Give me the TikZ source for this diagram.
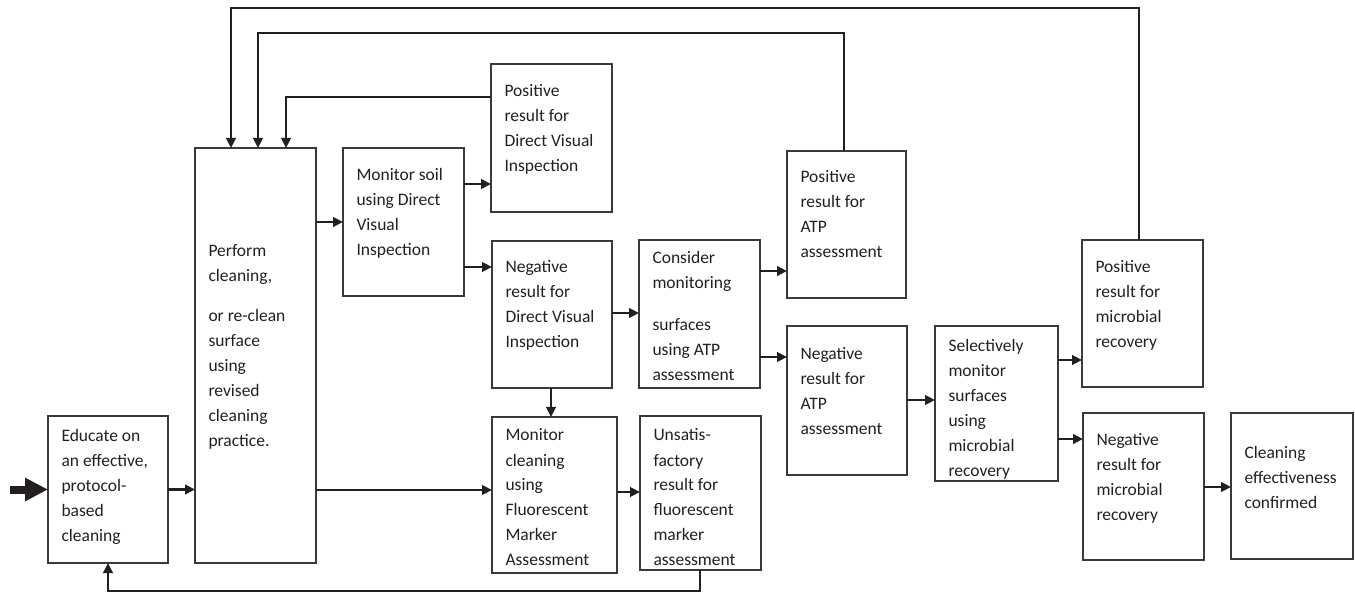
\documentclass[tikz,border=0pt]{standalone}
\usepackage{fontspec}
\setmainfont{Carlito}
\usetikzlibrary{arrows.meta,calc}
\definecolor{ink}{HTML}{231F20}
\definecolor{boxline}{HTML}{3A3A3A}
\newcommand\lns[1]{\begin{tabular}[t]{@{}l@{}}#1\end{tabular}}
% name, x1, y1, x2, y2, first baseline, text
\newcommand\flowbox[7]{%
  \node[box, anchor=north west, minimum width={#4-#2}, minimum height={#5-#3}] (#1) at (#2,#3) {};
  \begin{scope}
    \clip (#2,#3) rectangle (#4,#5);
    \node[txt, anchor=base west] (#1-t) at (#2+13.5,#6) {\lns{#7}};
  \end{scope}
}
\tikzset{
  box/.style={draw=boxline, line width=1.2pt, inner sep=0pt, outer sep=0pt, fill=none},
  txt/.style={inner sep=0pt, outer sep=0pt, text=ink},
  conn/.style={draw=ink, line width=2.8pt},
  arr/.style={conn, -{Triangle[length=10pt,width=9.5pt]}},
  bigarr/.style={draw=ink, line width=8pt, -{Triangle[length=23pt,width=22pt]}}
}
\begin{document}
\begin{tikzpicture}[x=1pt, y=-1pt, font=\fontsize{17.5}{25}\selectfont]
\useasboundingbox (0,0) rectangle (1355,593);

\flowbox{edu}{48}{416}{168}{563}{442}{Educate on\\ an effective,\\ protocol-\\ based\\ cleaning}
\flowbox{perf}{195}{148}{316}{563}{257}{Perform\\ cleaning,\\[15pt] or re-clean\\ surface\\ using\\ revised\\ cleaning\\ practice.}
\flowbox{msoil}{343}{148}{464}{296}{181}{Monitor soil\\ using Direct\\ Visual\\ Inspection}
\flowbox{pdvi}{491}{64}{612}{212}{97}{Positive\\ result for\\ Direct Visual\\ Inspection}
\flowbox{ndvi}{492}{241}{612}{388}{273}{Negative\\ result for\\ Direct Visual\\ Inspection}
\flowbox{cons}{639}{240}{760}{388}{264}{Consider\\ monitoring\\[17pt] surfaces\\ using ATP\\ assessment}
\flowbox{mclean}{492}{417}{617}{573}{441}{Monitor\\ cleaning\\ using\\ Fluorescent\\ Marker\\ Assessment}
\flowbox{unsat}{640}{416}{761}{570}{441}{Unsatis-\\ factory\\ result for\\ fluorescent\\ marker\\ assessment}
\flowbox{patp}{787}{151}{906}{298}{183}{Positive\\ result for\\ ATP\\ assessment}
\flowbox{natp}{787}{326}{907}{475}{360}{Negative\\ result for\\ ATP\\ assessment}
\flowbox{sel}{935}{326}{1058}{481}{352}{Selectively\\ monitor\\ surfaces\\ using\\ microbial\\ recovery}
\flowbox{pmr}{1082}{240}{1203}{387}{273}{Positive\\ result for\\ microbial\\ recovery}
\flowbox{nmr}{1083}{413}{1204}{560}{446}{Negative\\ result for\\ microbial\\ recovery}
\flowbox{clean}{1231}{413}{1353}{559}{458}{Cleaning\\ effectiveness\\ confirmed}

\coordinate (in) at (10,489.5);
\draw[bigarr] (in) -- (edu.west);

\draw[arr] (edu.east) -- (edu.east -| perf.west);
\draw[arr] (msoil.west -| perf.east) -- (msoil.west);
\draw[arr] (msoil.east |- 0,184) -- (pdvi.west |- 0,184);
\draw[arr] (msoil.east |- 0,267) -- (ndvi.west |- 0,267);
\draw[arr] (ndvi.east |- 0,313) -- (cons.west |- 0,313);
\draw[arr] (ndvi.south -| 551,0) -- (mclean.north -| 551,0);
\draw[arr] (perf.east |- 0,490) -- (mclean.west |- 0,490);
\draw[arr] (mclean.east |- 0,492) -- (unsat.west |- 0,492);
\draw[arr] (cons.east |- 0,271) -- (patp.west |- 0,271);
\draw[arr] (cons.east |- 0,357) -- (natp.west |- 0,357);
\draw[arr] (natp.east |- 0,400) -- (sel.west |- 0,400);
\draw[arr] (sel.east |- 0,360) -- (pmr.west |- 0,360);
\draw[arr] (sel.east |- 0,439) -- (nmr.west |- 0,439);
\draw[arr] (nmr.east |- 0,487) -- (clean.west |- 0,487);

% feedback loops
\draw[arr] (pmr.north -| 1139,0) |- (231,8) -- (perf.north -| 231,0);
\draw[arr] (patp.north -| 844,0) |- (258,33) -- (perf.north -| 258,0);
\draw[arr] (pdvi.west |- 0,97) -| (perf.north -| 286,0);
\draw[arr] (unsat.south -| 700,0) |- (108,591) -- (edu.south -| 108,0);
\end{tikzpicture}
\end{document}
